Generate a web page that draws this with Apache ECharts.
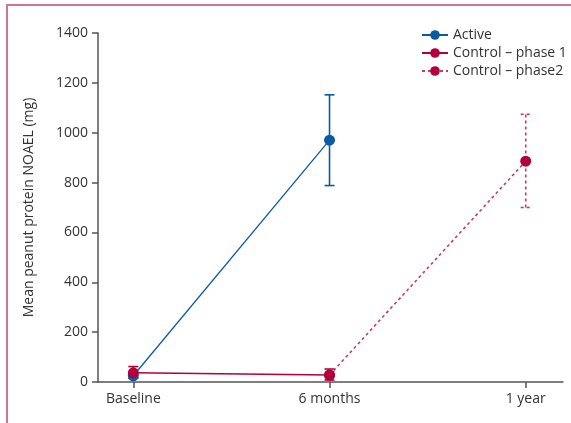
<!DOCTYPE html>
<html>
<head>
<meta charset="utf-8">
<script src="https://cdn.jsdelivr.net/npm/echarts@6/dist/echarts.min.js"></script>
<style>
  html, body { margin: 0; padding: 0; background: #fff; }
  #wrap { position: relative; width: 571px; height: 423px; }
  #chart { width: 571px; height: 423px; }
  #frame {
    position: absolute; left: 6px; top: 4px; right: 0; bottom: 0;
    border-left: 2px solid #cd7593; border-top: 2px solid #cd7593;
    pointer-events: none;
  }
</style>
</head>
<body>
<div id="wrap">
  <div id="chart"></div>
  <div id="frame"></div>
</div>
<script>
// time points (x positions 0, 1, 2)
const timeLabels = ['Baseline', '6 months', '1 year']

// means and error bar ends (mg)
const activeMean = [25, 970, null]
const activeLow = [15, 788, null]
const activeHigh = [35, 1152, null]

const ctrl1Mean = [37, 28, null]
const ctrl1Low = [18, 8, null]
const ctrl1High = [62, 52, null]

const ctrl2Mean = [null, 28, 886]
const ctrl2Low = [null, null, 700]
const ctrl2High = [null, null, 1074]

const blue = '#0b5aa6'
const red = '#b3003a'
const pink = '#c83a6b'

function pairs(arr) {
  return arr.map((v, i) => [i, v])
}

function errData(low, high) {
  const out = []
  low.forEach((l, i) => {
    if (l != null && high[i] != null) out.push([i, l, high[i]])
  })
  return out
}

function errorBars(color, dashed) {
  return function (params, api) {
    const x = api.value(0)
    const lo = api.coord([x, api.value(1)])
    const hi = api.coord([x, api.value(2)])
    const w = 5
    const style = { stroke: color, lineWidth: 1.6, lineDash: dashed ? [3, 3] : null }
    return {
      type: 'group',
      children: [
        { type: 'line', shape: { x1: lo[0], y1: lo[1], x2: hi[0], y2: hi[1] }, style },
        { type: 'line', shape: { x1: hi[0] - w, y1: hi[1], x2: hi[0] + w, y2: hi[1] }, style },
        { type: 'line', shape: { x1: lo[0] - w, y1: lo[1], x2: lo[0] + w, y2: lo[1] }, style }
      ]
    }
  }
}

const chart = echarts.init(document.getElementById('chart'))
const font = 'Open Sans'
const axisColor = '#555'

chart.setOption({
  animation: false,
  textStyle: { fontFamily: font },
  grid: { left: 98, right: 8, top: 33, bottom: 41 },
  legend: {
    orient: 'vertical',
    left: 416,
    top: 23,
    itemGap: 4,
    itemWidth: 26,
    itemHeight: 12,
    textStyle: { fontFamily: font, fontSize: 14, color: '#333' },
    data: ['Active', 'Control – phase 1', 'Control – phase2']
  },
  xAxis: {
    type: 'value',
    min: -0.18,
    max: 2.19,
    splitLine: { show: false },
    axisLine: { onZero: false, lineStyle: { color: axisColor, width: 1.5 } },
    axisTick: { length: 6, lineStyle: { color: axisColor, width: 1.5 }, customValues: [0, 1, 2] },
    axisLabel: {
      customValues: [0, 1, 2],
      color: '#333', fontSize: 14, margin: 10,
      formatter: v => timeLabels[Math.round(v)]
    }
  },
  yAxis: {
    type: 'value',
    min: 0,
    max: 1400,
    interval: 200,
    name: 'Mean peanut protein NOAEL (mg)',
    nameLocation: 'middle',
    nameGap: 62,
    nameTextStyle: { fontSize: 14, color: '#333' },
    splitLine: { show: false },
    axisLine: { show: true, onZero: false, lineStyle: { color: axisColor, width: 1.5 } },
    axisTick: { show: true, length: 6, lineStyle: { color: axisColor, width: 1.5 } },
    axisLabel: { color: '#333', fontSize: 14, margin: 10, formatter: v => String(v) }
  },
  series: [
    {
      type: 'custom', name: 'err-c2', z: 1,
      renderItem: errorBars(pink, true), data: errData(ctrl2Low, ctrl2High)
    },
    {
      type: 'custom', name: 'err-a', z: 1,
      renderItem: errorBars(blue, false), data: errData(activeLow, activeHigh)
    },
    {
      type: 'custom', name: 'err-c1', z: 1,
      renderItem: errorBars(red, false), data: errData(ctrl1Low, ctrl1High)
    },
    {
      name: 'Active', type: 'line', z: 3,
      data: pairs(activeMean),
      symbol: 'circle', symbolSize: 11,
      itemStyle: { color: blue },
      lineStyle: { color: blue, width: 1.3 }
    },
    {
      name: 'Control – phase2', type: 'line', z: 4,
      data: pairs(ctrl2Mean),
      symbol: 'circle', symbolSize: 11,
      itemStyle: { color: red },
      lineStyle: { color: pink, width: 1.6, type: [3, 3] }
    },
    {
      name: 'Control – phase 1', type: 'line', z: 5,
      data: pairs(ctrl1Mean),
      symbol: 'circle', symbolSize: 11,
      itemStyle: { color: red },
      lineStyle: { color: red, width: 1.4 }
    }
  ]
})
</script>
</body>
</html>
